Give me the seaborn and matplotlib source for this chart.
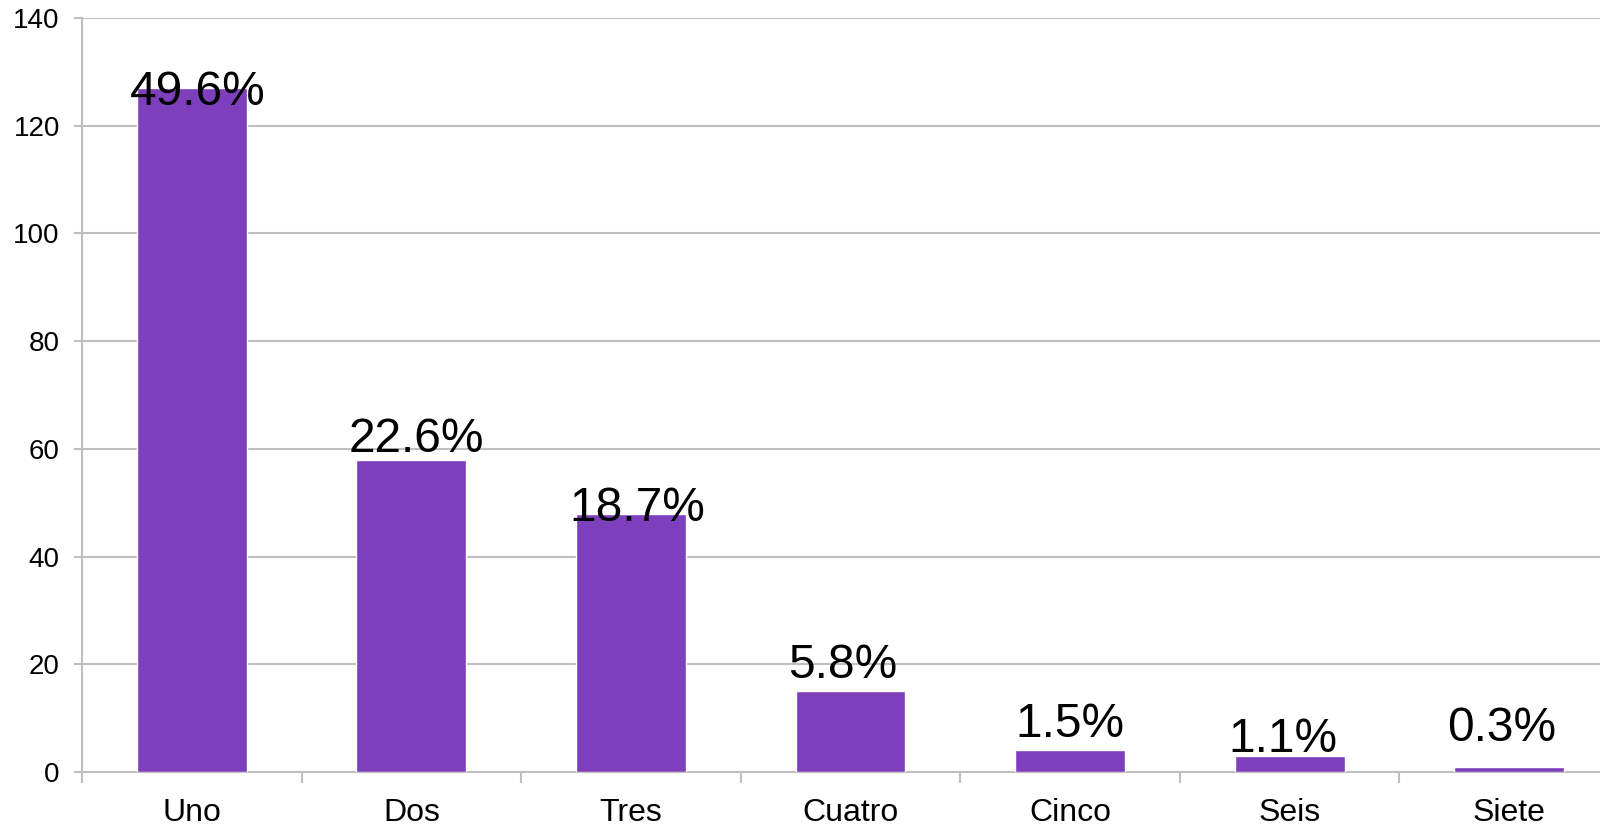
import pandas as pd
import matplotlib
matplotlib.use("Agg")
import matplotlib.pyplot as plt
import seaborn as sns

# =========================
# DATA
# =========================
categorias = ["Uno", "Dos", "Tres", "Cuatro", "Cinco", "Seis", "Siete"]
valores = [127, 58, 48, 15, 4, 3, 1]
etiquetas = ["49.6%", "22.6%", "18.7%", "5.8%", "1.5%", "1.1%", "0.3%"]
y_ticks = [0, 20, 40, 60, 80, 100, 120, 140]

# label offsets from bar top centre (pixels)
label_dx = [6, 5, 6, -8, 0, -7, -7]
label_dy = [-17, 8, -7, 13, 13, 4, 26]

df = pd.DataFrame({"cat": categorias, "val": valores})

# =========================
# STYLE
# =========================
sns.set_style("white")
plt.rcParams["font.family"] = ["Liberation Sans", "DejaVu Sans"]

grey = "#BFBFBF"
purple = "#7D3FBC"

fig = plt.figure(figsize=(16, 8.32), dpi=100)
ax = fig.add_axes([0.05125, 0.0721, 0.9606, 0.9062])

sns.barplot(data=df, x="cat", y="val", color=purple, width=0.5,
            saturation=1, ax=ax, zorder=3)

ax.set_xlim(-0.5, len(categorias) - 0.5)
ax.set_ylim(0, 140)
ax.set_yticks(y_ticks)
ax.yaxis.grid(True, color=grey, linewidth=1.5, zorder=0)
ax.set_axisbelow(True)

ax.set_xlabel("")
ax.set_ylabel("")

for s in ["top", "right"]:
    ax.spines[s].set_visible(False)
for s in ["left", "bottom"]:
    ax.spines[s].set_color(grey)
    ax.spines[s].set_linewidth(1.5)

ax.tick_params(axis="y", length=6, width=1.5, color=grey, pad=10,
               labelsize=20, labelcolor="black", left=True)
ax.tick_params(axis="x", which="major", length=0, pad=19, labelsize=23,
               labelcolor="black")
ax.set_xticks([i - 0.5 for i in range(len(categorias) + 1)], minor=True)
ax.tick_params(axis="x", which="minor", length=8, width=1.5, color=grey,
               bottom=True)

# =========================
# LABELS
# =========================
for i, (v, t, dx, dy) in enumerate(zip(valores, etiquetas, label_dx, label_dy)):
    ax.annotate(t, (i, v), xytext=(dx, dy), textcoords="offset pixels",
                ha="center", va="baseline", fontsize=34.5, color="black",
                zorder=5)

plt.savefig("out.png", dpi=100)
